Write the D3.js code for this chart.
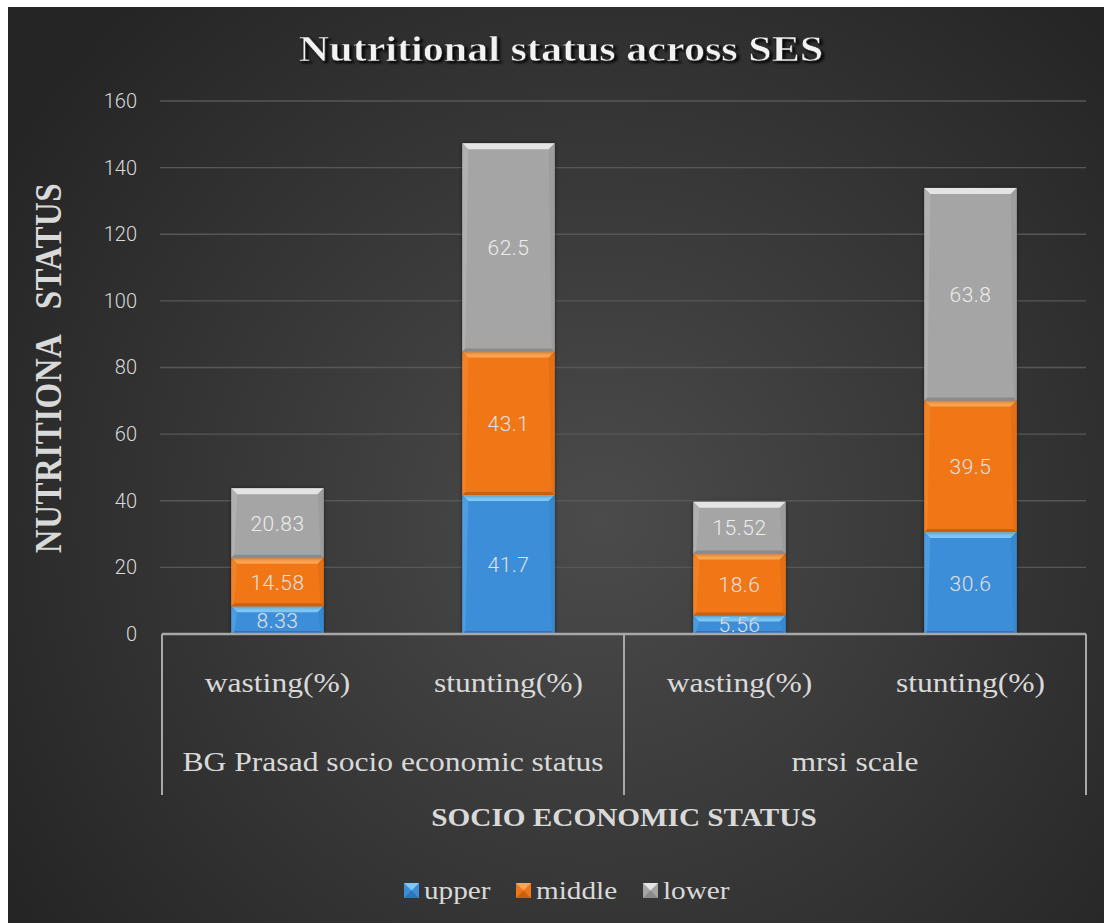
<!DOCTYPE html>
<html><head><meta charset="utf-8">
<script src="https://cdn.jsdelivr.net/npm/d3@7"></script>
<style>html,body{margin:0;padding:0;background:#fff;}svg{display:block;}</style>
</head><body>
<script>
const categories = ["wasting(%)", "stunting(%)", "wasting(%)", "stunting(%)"];
const groups = ["BG Prasad socio economic status", "mrsi scale"];
const seriesNames = ["upper", "middle", "lower"];
const upper = [8.33, 41.7, 5.56, 30.6];
const middle = [14.58, 43.1, 18.6, 39.5];
const lower = [20.83, 62.5, 15.52, 63.8];
const yTicks = [0, 20, 40, 60, 80, 100, 120, 140, 160];

const W = 1105, H = 923;
const SX = 1.17; // horizontal stretch of serif text
const svg = d3.select("body").append("svg").attr("width", W).attr("height", H);
const defs = svg.append("defs");
const rg = defs.append("radialGradient").attr("id","bg").attr("gradientUnits","userSpaceOnUse")
  .attr("cx",600).attr("cy",520).attr("r",700);
rg.append("stop").attr("offset","0%").attr("stop-color","#4b4b4b");
rg.append("stop").attr("offset","100%").attr("stop-color","#252525");
const f = defs.append("filter").attr("id","tshadow").attr("x","-10%").attr("y","-30%").attr("width","120%").attr("height","160%");
f.append("feDropShadow").attr("dx",2).attr("dy",2).attr("stdDeviation",1.2).attr("flood-color","#000").attr("flood-opacity",0.9);
const bs = defs.append("filter").attr("id","bshadow").attr("x","-20%").attr("y","-20%").attr("width","140%").attr("height","140%");
bs.append("feDropShadow").attr("dx",0).attr("dy",0).attr("stdDeviation",2).attr("flood-color","#000").attr("flood-opacity",0.5);

svg.append("rect").attr("x",8).attr("y",7).attr("width",1096).attr("height",H-7).attr("fill","url(#bg)");

const x0 = 162, x1 = 1086;
const x = d3.scaleBand().domain(d3.range(categories.length)).range([x0, x1]).paddingInner(0.6).paddingOuter(0.3);
const y = d3.scaleLinear().domain([0,160]).range([634, 101]);

// gridlines
svg.append("g").selectAll("line").data(yTicks.slice(1)).join("line")
  .attr("x1",160).attr("x2",x1).attr("y1",d=>y(d)).attr("y2",d=>y(d))
  .attr("stroke","#575757").attr("stroke-width",1.3);

// y axis labels
const yAxis = d3.axisLeft(y).tickValues(yTicks).tickSize(0).tickPadding(0);
const yg = svg.append("g").attr("transform","translate(137,0)").call(yAxis);
yg.select(".domain").remove();
yg.selectAll("text").attr("font-family","Roboto, 'Open Sans', sans-serif").attr("font-size",20)
  .attr("fill","#d9d9d9").attr("font-weight",300);

const colors = {
  upper: {face:"#3d8ed8", top:"#7cc8f6", bottom:"#3074b8", left:"#5aa7e6", right:"#3683cc"},
  middle:{face:"#f07618", top:"#ffa450", bottom:"#c9600f", left:"#f58a34", right:"#dc6b14"},
  lower: {face:"#a5a5a5", top:"#e4e4e4", bottom:"#8a8a8a", left:"#b8b8b8", right:"#979797"}
};
const dataBySeries = {upper, middle, lower};
const stackData = categories.map((c,i)=>({i, upper:upper[i], middle:middle[i], lower:lower[i]}));
const stack = d3.stack().keys(seriesNames)(stackData);

const barsG = svg.append("g");
stack.forEach(layer=>{
  const key = layer.key, col = colors[key];
  layer.forEach((d,i)=>{
    const bx = x(i), bw = x.bandwidth();
    const by = y(d[1]), bh = y(d[0]) - y(d[1]);
    const b = Math.min(6, bh/3);
    const bb = Math.min(3, bh/4);
    const g = barsG.append("g");
    g.append("rect").attr("x",bx).attr("y",by).attr("width",bw).attr("height",bh).attr("fill",col.face).attr("filter","url(#bshadow)");
    const poly = pts => g.append("polygon").attr("points", pts.map(p=>p.join(",")).join(" "));
    poly([[bx,by],[bx+bw,by],[bx+bw-b,by+b],[bx+b,by+b]]).attr("fill",col.top);
    poly([[bx,by+bh],[bx+bw,by+bh],[bx+bw-bb,by+bh-bb],[bx+bb,by+bh-bb]]).attr("fill",col.bottom);
    poly([[bx,by],[bx+b,by+b],[bx+bb,by+bh-bb],[bx,by+bh]]).attr("fill",col.left).attr("opacity",0.6);
    poly([[bx+bw,by],[bx+bw-b,by+b],[bx+bw-bb,by+bh-bb],[bx+bw,by+bh]]).attr("fill",col.right).attr("opacity",0.6);
    g.append("text").attr("x",bx+bw/2).attr("y",(by+by+bh)/2).attr("dy","0.36em")
      .attr("text-anchor","middle").attr("font-family","Roboto, 'Open Sans', sans-serif")
      .attr("font-size",21).attr("fill", key==="lower" ? "#ececec" : "#e0e0e0").attr("font-weight",300)
      .attr("letter-spacing",0.5)
      .text(dataBySeries[key][i]);
  });
});

// axis lines
const axCol = "#a8a8a8";
svg.append("line").attr("x1",x0).attr("x2",x1).attr("y1",y(0)).attr("y2",y(0)).attr("stroke",axCol).attr("stroke-width",2.5);
[x0, (x0+x1)/2, x1].forEach(xx=>{
  svg.append("line").attr("x1",xx).attr("x2",xx).attr("y1",y(0)).attr("y2",795).attr("stroke",axCol).attr("stroke-width",2);
});

const serif = "'Liberation Serif', 'Times New Roman', serif";
function stretched(parent, tx, ty, anchor) {
  return parent.append("text").attr("transform",`translate(${tx},${ty}) scale(${SX},1)`)
    .attr("x",0).attr("y",0).attr("text-anchor",anchor || "middle").attr("font-family",serif);
}
categories.forEach((c,i)=>{
  stretched(svg, x(i)+x.bandwidth()/2, 692).attr("font-size",27).attr("fill","#d9d9d9").text(c);
});
groups.forEach((gname,i)=>{
  const cx = i===0 ? (x0+(x0+x1)/2)/2 : ((x0+x1)/2+x1)/2;
  stretched(svg, cx, 771).attr("font-size",27).attr("fill","#d9d9d9").text(gname);
});

// axis titles
stretched(svg, (x0+x1)/2, 826).attr("font-weight","bold").attr("font-size",25).attr("fill","#d9d9d9")
  .text("SOCIO ECONOMIC STATUS");
svg.append("text").attr("transform","translate(61,368) rotate(-90) scale(1,1.17)").attr("text-anchor","middle")
  .attr("font-family",serif).attr("font-weight","bold").attr("font-size",33).attr("letter-spacing",0.5)
  .attr("fill","#d9d9d9")
  .attr("xml:space","preserve").style("white-space","pre")
  .text("NUTRITIONA   STATUS");

// title
stretched(svg, 561, 61).attr("font-weight","bold").attr("font-size",36).attr("fill","#f2f2f2")
  .attr("stroke","#222").attr("stroke-width",0.6).attr("filter","url(#tshadow)")
  .text("Nutritional status across SES");

// legend
const legX = [404, 516, 643];
const lg = svg.append("g");
seriesNames.forEach((s,i)=>{
  const col = colors[s];
  const lx = legX[i], ly = 883, sz = 15;
  lg.append("rect").attr("x",lx).attr("y",ly).attr("width",sz).attr("height",sz).attr("fill",col.face);
  const poly = pts => lg.append("polygon").attr("points", pts.map(p=>p.join(",")).join(" "));
  poly([[lx,ly],[lx+sz,ly],[lx+sz/2,ly+sz/2]]).attr("fill",col.top);
  poly([[lx,ly+sz],[lx+sz,ly+sz],[lx+sz/2,ly+sz/2]]).attr("fill",col.bottom);
  stretched(lg, lx+20, ly+16, "start").attr("font-size",25).attr("fill","#d9d9d9").text(s);
});
</script>
</body></html>
